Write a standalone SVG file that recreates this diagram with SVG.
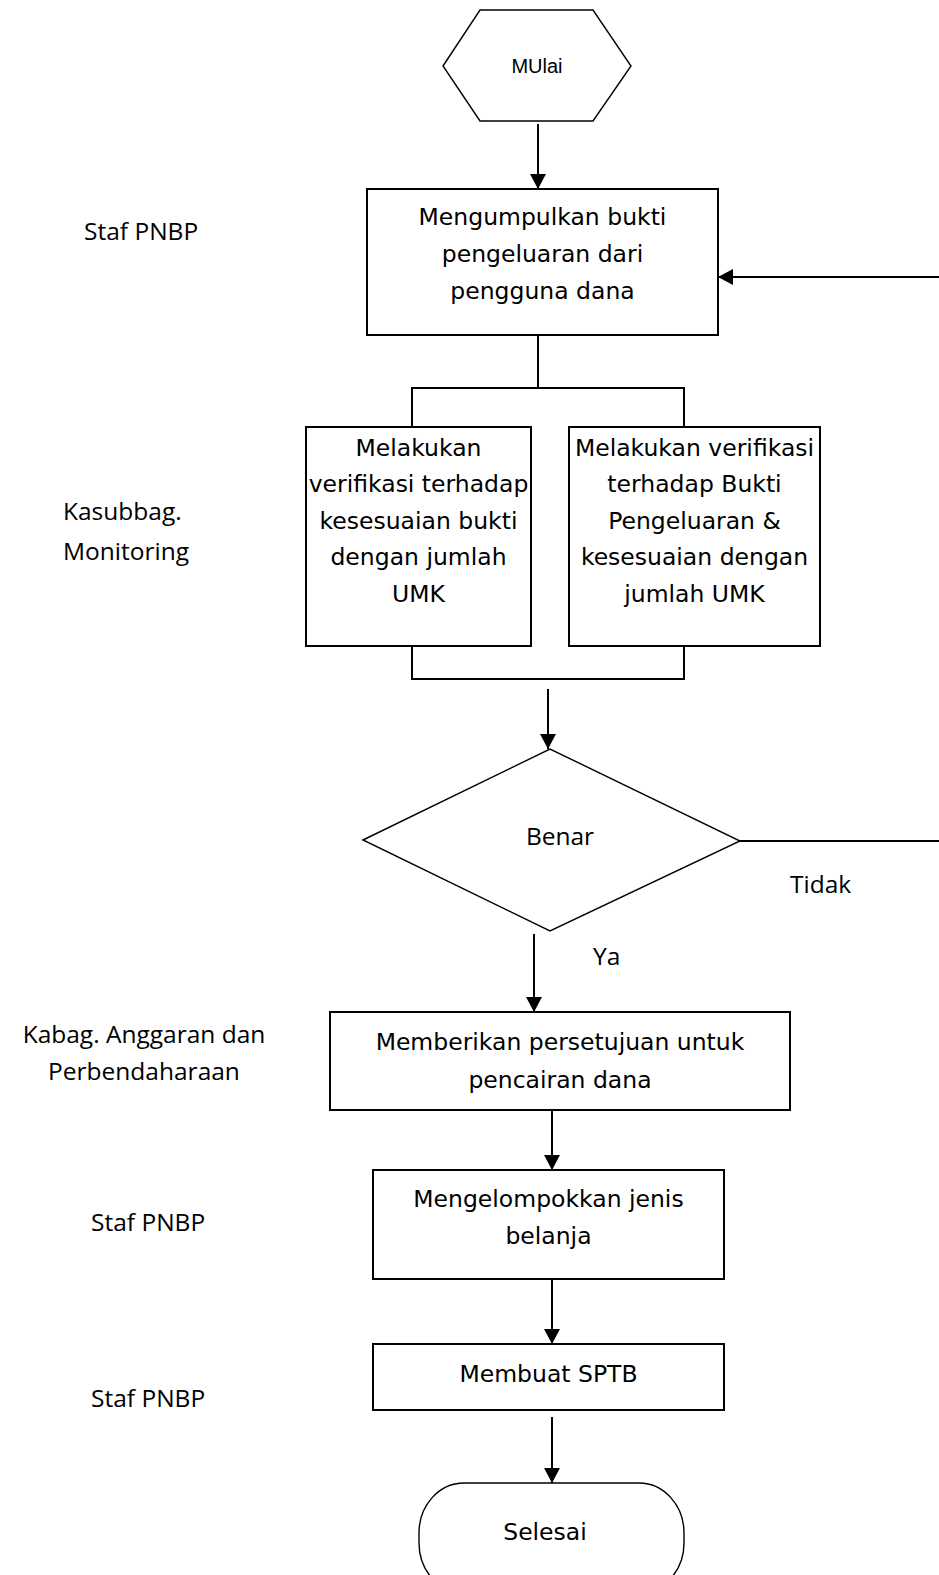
<svg xmlns="http://www.w3.org/2000/svg" width="939" height="1575" viewBox="0 0 939 1575">
  <style>
    .shape { fill: #fff; stroke: #000; stroke-width: 2; }
    .thin { fill: #fff; stroke: #000; stroke-width: 1.4; }
    .conn { fill: none; stroke: #000; stroke-width: 2; }
    .arrow { marker-end: url(#head); }
    .box { font-family: "DejaVu Sans", Verdana, sans-serif; font-size: 23.5px; fill: #000; text-anchor: middle; }
    .lbl { font-family: "Open Sans", "Noto Sans", sans-serif; font-size: 24.5px; fill: #000; }
    .mid { text-anchor: middle; }
    .start { font-family: "Liberation Sans", Arial, sans-serif; font-size: 20px; fill: #000; text-anchor: middle; }
  </style>
  <defs>
    <marker id="head" markerUnits="userSpaceOnUse" markerWidth="16" markerHeight="16" refX="15" refY="8" orient="auto">
      <path d="M0,0 L15,8 L0,16 Z" fill="#000"/>
    </marker>
  </defs>
  <rect width="939" height="1575" fill="#fff"/>

  <!-- role labels on the left -->
  <g id="roles">
    <text class="lbl" x="84" y="240">Staf PNBP</text>
    <text class="lbl" x="63" y="520">Kasubbag.</text>
    <text class="lbl" x="63" y="560">Monitoring</text>
    <text class="lbl mid" x="144" y="1043">Kabag. Anggaran dan</text>
    <text class="lbl mid" x="144" y="1080">Perbendaharaan</text>
    <text class="lbl" x="91" y="1231">Staf PNBP</text>
    <text class="lbl" x="91" y="1407">Staf PNBP</text>
  </g>

  <!-- connectors -->
  <g id="connectors">
    <path class="conn arrow" d="M538,124 V189"/>
    <path class="conn" d="M538,335 V388"/>
    <path class="conn" d="M412,427 V388 H684 V427"/>
    <path class="conn" d="M412,646 V679 H684 V646"/>
    <path class="conn arrow" d="M548,689 V749"/>
    <path class="conn arrow" d="M740,841 H948 V277 H718"/>
    <path class="conn arrow" d="M534,934 V1012"/>
    <path class="conn arrow" d="M552,1110 V1170"/>
    <path class="conn arrow" d="M552,1279 V1344"/>
    <path class="conn arrow" d="M552,1417 V1483"/>
    <text class="lbl" x="790" y="893">Tidak</text>
    <text class="lbl" x="593" y="965">Ya</text>
  </g>

  <g id="mulai">
    <polygon class="thin" points="443,66 480,10 593,10 631,66 593,121 480,121"/>
    <text class="start" x="537" y="73">MUlai</text>
  </g>

  <g id="kumpul">
    <rect class="shape" x="367" y="189" width="351" height="146"/>
    <text class="box" x="542.5" y="225">Mengumpulkan bukti</text>
    <text class="box" x="542.5" y="262">pengeluaran dari</text>
    <text class="box" x="542.5" y="299">pengguna dana</text>
  </g>

  <g id="verifikasi-kiri">
    <rect class="shape" x="306" y="427" width="225" height="219"/>
    <text class="box" x="418.5" y="456">Melakukan</text>
    <text class="box" x="418.5" y="492">verifikasi terhadap</text>
    <text class="box" x="418.5" y="529">kesesuaian bukti</text>
    <text class="box" x="418.5" y="565">dengan jumlah</text>
    <text class="box" x="418.5" y="602">UMK</text>
  </g>

  <g id="verifikasi-kanan">
    <rect class="shape" x="569" y="427" width="251" height="219"/>
    <text class="box" x="694.5" y="456">Melakukan verifikasi</text>
    <text class="box" x="694.5" y="492">terhadap Bukti</text>
    <text class="box" x="694.5" y="529">Pengeluaran &amp;</text>
    <text class="box" x="694.5" y="565">kesesuaian dengan</text>
    <text class="box" x="694.5" y="602">jumlah UMK</text>
  </g>

  <g id="benar">
    <polygon class="thin" points="363,840 550,749 740,841 550,931"/>
    <text class="lbl mid" x="560" y="845">Benar</text>
  </g>

  <g id="persetujuan">
    <rect class="shape" x="330" y="1012" width="460" height="98"/>
    <text class="box" x="560" y="1050">Memberikan persetujuan untuk</text>
    <text class="box" x="560" y="1088">pencairan dana</text>
  </g>

  <g id="kelompok">
    <rect class="shape" x="373" y="1170" width="351" height="109"/>
    <text class="box" x="548.5" y="1207">Mengelompokkan jenis</text>
    <text class="box" x="548.5" y="1244">belanja</text>
  </g>

  <g id="sptb">
    <rect class="shape" x="373" y="1344" width="351" height="66"/>
    <text class="box" x="548.5" y="1382">Membuat SPTB</text>
  </g>

  <g id="selesai">
    <rect class="thin" x="419" y="1483" width="265" height="110" rx="45" ry="50"/>
    <text class="box" x="545" y="1540">Selesai</text>
  </g>
</svg>
